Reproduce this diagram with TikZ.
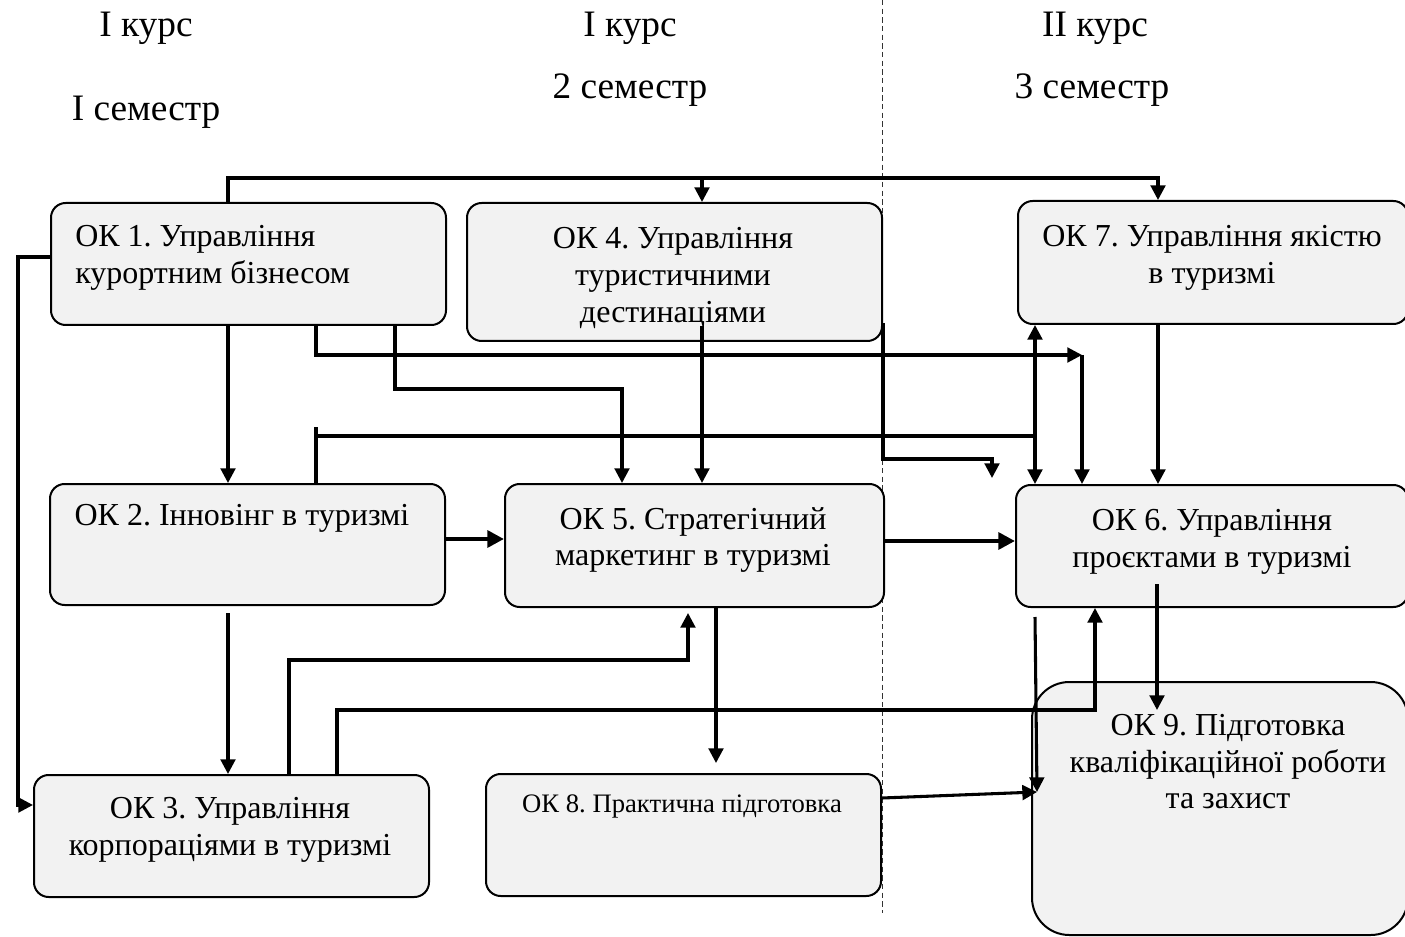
\documentclass[tikz,border=0pt]{standalone}
\usepackage{fontspec}
\setmainfont{Liberation Serif}
\usetikzlibrary{arrows.meta}
\definecolor{boxgray}{HTML}{F2F2F2}
\frenchspacing
\begin{document}
\begin{tikzpicture}[x=0.75pt,y=-0.75pt,
  box/.style={draw=black, line width=1.5pt, fill=boxgray, rounded corners=11pt, inner sep=0pt, anchor=north west},
  txt/.style={font=\fontsize{24}{27.4}\selectfont, inner sep=0pt, align=center},
  head/.style={font=\fontsize{28}{32}\selectfont, inner sep=0pt, align=center},
  small/.style={font=\fontsize{20}{24}\selectfont, inner sep=0pt, align=center},
  plain/.style={line width=2.3pt},
  conn/.style={line width=2.3pt, -{Triangle[length=11pt,width=11pt]}},
  heavy/.style={line width=3.6pt, -{Triangle[length=12.5pt,width=12.5pt]}},
]
\useasboundingbox (0,0) rectangle (1405,937);

% headers
\node[head] (h1) at (146,28) {І курс};
\node[head] (h2) at (146,112) {І семестр};
\node[head] (h3) at (630,28) {І курс};
\node[head] (h4) at (630,90) {2 семестр};
\node[head] (h5) at (1095,28) {ІІ курс};
\node[head] (h6) at (1092,90) {3 семестр};

% dashed divider
\draw[line width=0.75pt, dash pattern=on 4pt off 2.5pt, black!80] (882,0) -- (882,913);

% boxes
\node[box, minimum width=296.25pt, minimum height=91.5pt] (ok1) at (50,202) {};
\node[box, minimum width=311.25pt, minimum height=103.5pt] (ok4) at (466,202) {};
\node[box, minimum width=292.5pt, minimum height=92.25pt] (ok7) at (1017,200) {};
\node[box, minimum width=296.25pt, minimum height=90.75pt] (ok2) at (49,483) {};
\node[box, minimum width=284.25pt, minimum height=92.25pt] (ok5) at (504,483) {};
\node[box, minimum width=294pt, minimum height=91.5pt] (ok6) at (1015,484) {};
\node[box, minimum width=296.25pt, minimum height=91.5pt] (ok3) at (33,774) {};
\node[box, minimum width=296.25pt, minimum height=91.5pt] (ok8) at (485,773) {};
\node[box, rounded corners=28pt, minimum width=282pt, minimum height=189.75pt] (ok9) at (1031,681) {};

% box texts
\node[txt, align=left, anchor=west] (t1) at (75,258) {ОК 1. Управління\\курортним бізнесом};
\node[txt] (t4) at (673,278) {ОК 4. Управління\\туристичними\\дестинаціями};
\node[txt] (t7) at (1212,258) {ОК 7. Управління якістю\\в туризмі};
\node[txt] (t2) at (242,518) {ОК 2. Інновінг в туризмі};
\node[txt] (t5) at (693,540) {ОК 5. Стратегічний\\маркетинг в туризмі};
\node[txt] (t6) at (1212,542) {ОК 6. Управління\\проєктами в туризмі};
\node[txt] (t3) at (230,830) {ОК 3. Управління\\корпораціями в туризмі};
\node[small] (t8) at (682,806) {ОК 8. Практична підготовка};
\node[txt] (t9) at (1228,762) {ОК 9. Підготовка\\кваліфікаційної роботи\\та захист};

% free ends
\coordinate (e1) at (992,478);
\coordinate (e2) at (688,613);
\coordinate (e3) at (716,763);
\coordinate (e4) at (1037,792);
\coordinate (e5) at (1157,710);
\coordinate (e6) at (1082,355);
\coordinate (s1) at (1035,617);
\coordinate (s2) at (228,613);
\coordinate (s3) at (702,326);
\coordinate (s4) at (1157,584);
\coordinate (j1) at (1035,436);

% connectors
\draw[conn] (ok1.north -| 228,0) -- (228,178) -- (1158,178) -- (ok7.north -| 1158,0);
\draw[conn] (702,178) -- (ok4.north -| 702,0);
\draw[conn] (ok1.west |- 0,257) -- (18,257) -- (18,805) -- (ok3.west |- 0,805);
\draw[conn] (ok1.south -| 228,0) -- (ok2.north -| 228,0);
\draw[conn] (ok1.south -| 395,0) -- (395,389) -- (622,389) -- (ok5.north -| 622,0);
\draw[conn] (ok1.south -| 316,0) -- (316,355) -- (e6);
\draw[conn] (e6) -- (ok6.north -| e6);
\draw[conn] (s3) -- (ok5.north -| s3);
\draw[conn] (ok4.east |- 0,323) -- (ok4.east |- 0,459) -- (992,459) -- (e1);
\draw[plain] (316,427) -- (ok2.north -| 316,0);
\draw[plain] (316,436) -- (j1);
\draw[conn] (j1) -- (ok7.south -| j1);
\draw[conn] (j1) -- (ok6.north -| j1);
\draw[heavy] (ok2.east |- 0,539) -- (ok5.west |- 0,539);
\draw[heavy] (ok5.east |- 0,541) -- (ok6.west |- 0,541);
\draw[conn] (s2) -- (ok3.north -| s2);
\draw[conn] (ok3.north -| 289,0) -- (289,660) -- (688,660) -- (e2);
\draw[conn] (ok3.north -| 337,0) -- (337,710) -- (1095,710) -- (ok6.south -| 1095,0);
\draw[conn] (ok5.south -| e3) -- (e3);
\draw[conn] (ok8.east |- 0,798) -- (e4);
\draw[conn] (s1) -- (e4);
\draw[conn] (s4) -- (e5);
\draw[conn] (ok7.south -| 1158,0) -- (ok6.north -| 1158,0);
\end{tikzpicture}
\end{document}
